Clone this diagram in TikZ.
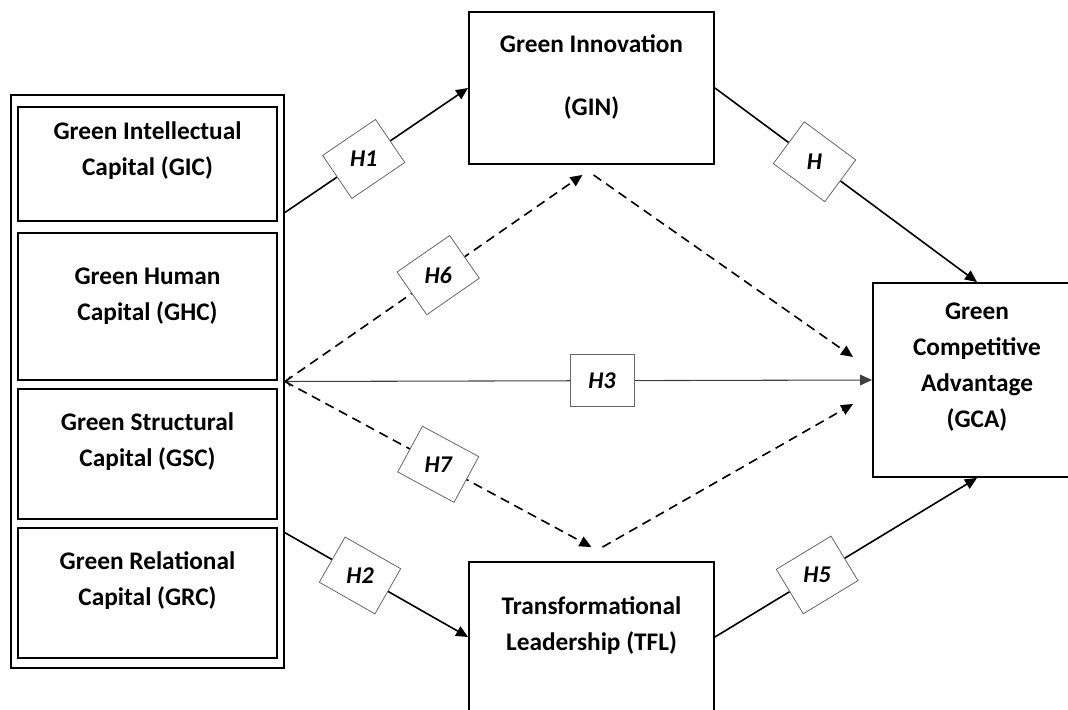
\documentclass[tikz,border=0pt]{standalone}
\usepackage{fontspec}
\setmainfont{Carlito}
\usetikzlibrary{arrows.meta,calc,fit}

\begin{document}
\begin{tikzpicture}[x=0.75pt,y=-0.75pt,line cap=butt,
  box/.style={draw,line width=1.4pt,inner sep=0pt},
  boxtext/.style={align=center,inner sep=0pt,font=\bfseries\fontsize{19}{27}\selectfont},
  hypbox/.style={draw=black!60,solid,line width=0.6pt,fill=white,minimum width=48pt,minimum height=39pt,inner sep=0pt},
  hyp/.style={text=black,inner sep=0pt,font=\bfseries\itshape\fontsize{18}{20}\selectfont},
  link/.style={line width=1.2pt,-{Triangle[length=9pt,width=8pt]}},
  mediated/.style={link,dash pattern=on 7pt off 4.5pt}]
\clip (0,0) rectangle (1068,710);
\useasboundingbox (0,0) rectangle (1068,710);

% green intellectual capital and its four parts
\node[box,fit={(11,95) (284,668)}] (frame) {};
\node[box,fit={(18,107) (277,221)}] (gic) {};
\node[box,fit={(18,233) (277,380)}] (ghc) {};
\node[box,fit={(18,389) (277,519)}] (gsc) {};
\node[box,fit={(18,528) (277,658)}] (grc) {};
\node[boxtext] at (147.5,151) {Green Intellectual\\Capital (GIC)};
\node[boxtext] at (147.5,296) {Green Human\\Capital (GHC)};
\node[boxtext] at (147.5,442) {Green Structural\\Capital (GSC)};
\node[boxtext] at (147.5,581) {Green Relational\\Capital (GRC)};

% mediators and outcome
\node[box,fit={(469,12) (714,164)}] (gin) {};
\node[box,fit={(469,562) (714,712)}] (tfl) {};
\node[box,fit={(873,283) (1081,477)}] (gca) {};
\node[boxtext] at (591.5,77) {Green Innovation\\[20pt](GIN)};
\node[boxtext] at (591.5,625.5) {Transformational\\Leadership (TFL)};
\node[boxtext] at (977,367) {Green\\Competitive\\Advantage\\(GCA)};

\coordinate (gin-in) at ($(gin.south)+(-9,10)$);
\coordinate (gin-out) at ($(gin.south)+(2,10)$);
\coordinate (tfl-in) at ($(tfl.north)+(0,-14)$);
\coordinate (tfl-out) at ($(tfl.north)+(11,-14)$);
\coordinate (gca-up) at ($(gca.west)+(-19,-23)$);
\coordinate (gca-low) at ($(gca.west)+(-19,24)$);

% direct paths
\draw[link] ($(frame.north east)!0.206!(frame.south east)$) -- (gin.west)
  node[hypbox,sloped,pos=0.43] {} node[hyp,pos=0.43] {H1};
\draw[link] ($(frame.north east)!0.763!(frame.south east)$) -- (tfl.west)
  node[hypbox,sloped,pos=0.41] {} node[hyp,pos=0.41] {H2};
\draw[link] (gin.east) -- (gca.north)
  node[hypbox,sloped,pos=0.38] {} node[hyp,pos=0.38] {H};
\draw[link] (tfl.east) -- (gca.south)
  node[hypbox,sloped,pos=0.39] {} node[hyp,pos=0.39] {H5};
\draw[line width=0.8pt,black!75,{To[length=4pt,width=8pt]}-{Triangle[length=9pt,width=8pt]}] (frame.east) -- (gca.west)
  node[hypbox,pos=0.54] {} node[hyp,pos=0.54] {H3};

% mediated paths
\draw[mediated] (frame.east) -- (gin-in)
  node[hypbox,sloped,pos=0.515] {} node[hyp,pos=0.515] {H6};
\draw[mediated] (gin-out) -- (gca-up);
\draw[mediated] (frame.east) -- (tfl-in)
  node[hypbox,sloped,pos=0.5] {} node[hyp,pos=0.5] {H7};
\draw[mediated] (tfl-out) -- (gca-low);
\end{tikzpicture}
\end{document}
